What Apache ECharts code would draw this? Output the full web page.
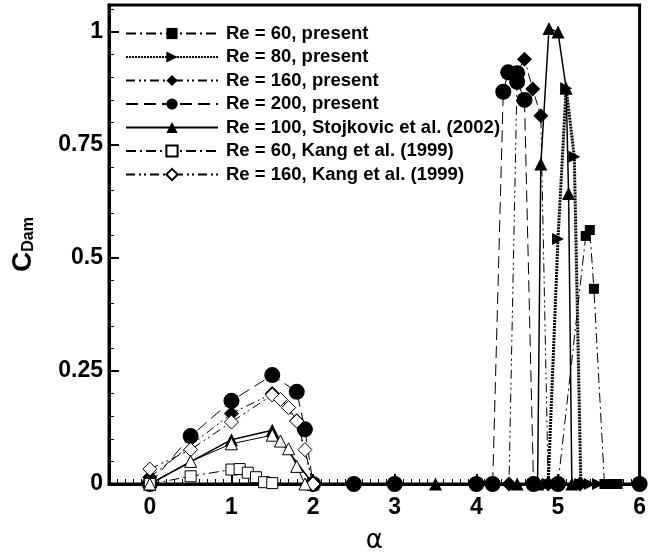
<!DOCTYPE html>
<html>
<head>
<meta charset="utf-8">
<script src="https://cdn.jsdelivr.net/npm/echarts@6.0.0/dist/echarts.min.js"></script>
<style>
  html, body { margin: 0; padding: 0; background: #fff; }
  #chart { width: 649px; height: 559px; }
</style>
</head>
<body>
<div id="chart"></div>
<script>
  // tick labels
  var xTicks = [0, 1, 2, 3, 4, 5, 6]
  var yTicks = [0, 0.25, 0.5, 0.75, 1]

  // [alpha, C_Dam]
  var re60Present = [[5.0, 0], [5.34, 0.549], [5.39, 0.562], [5.44, 0.432], [5.57, 0], [5.65, 0], [5.73, 0]]
  var re80Present = [[4.88, 0], [5.0, 0.542], [5.1, 0.876], [5.2, 0.724], [5.28, 0], [5.39, 0], [5.49, 0]]
  var re160Present = [[0, 0.015], [1, 0.156], [1.5, 0.2], [1.8, 0.14], [2, 0], [2.5, 0], [3, 0], [4.4, 0],
    [4.5, 0.91], [4.59, 0.94], [4.69, 0.874], [4.79, 0.815], [4.88, 0], [5.27, 0]]
  var re200Present = [[0, 0], [0.5, 0.106], [1, 0.184], [1.5, 0.241], [1.8, 0.204], [1.9, 0.121], [2, 0],
    [2.5, 0], [3, 0], [4, 0], [4.2, 0], [4.33, 0.868], [4.39, 0.911], [4.5, 0.909], [4.5, 0.89],
    [4.59, 0.85], [4.7, 0], [5, 0], [6, 0]]
  var re100Stojkovic = [[0, 0], [1, 0.098], [1.5, 0.119], [2, 0], [3.5, 0], [4.5, 0], [4.75, 0],
    [4.79, 0.708], [4.89, 1.008], [5.0, 1.0], [5.1, 0.876], [5.13, 0.643], [5.17, 0]]
  var re60Kang = [[0, 0], [0.5, 0.017], [1, 0.032], [1.1, 0.033], [1.2, 0.025], [1.3, 0.015], [1.4, 0.004], [1.5, 0.002]]
  var re160Kang = [[0, 0.033], [0.5, 0.076], [1, 0.137], [1.5, 0.197], [1.6, 0.187], [1.7, 0.169],
    [1.8, 0.139], [1.9, 0.076], [2, 0]]
  var openTriangles = [[0, 0], [0.5, 0.05], [1, 0.089], [1.5, 0.108], [1.6, 0.095], [1.7, 0.078], [1.8, 0.039], [1.9, 0]]

  var names = ['Re = 60, present', 'Re = 80, present', 'Re = 160, present', 'Re = 200, present',
    'Re = 100, Stojkovic et al. (2002)', 'Re = 60, Kang et al. (1999)', 'Re = 160, Kang et al. (1999)']

  var dashDot = [10, 4, 2, 4]
  var dashDotDot = [9, 4, 2, 3, 2, 4]
  var longDash = [12, 6]
  var FONT = 'Liberation Sans'

  function mk(name, data, symbol, size, filled, lineType, lineWidth, rotate) {
    return {
      name: name,
      type: 'line',
      data: data,
      symbol: symbol,
      symbolSize: size,
      symbolRotate: rotate || 0,
      showAllSymbol: true,
      clip: false,
      itemStyle: {
        color: filled ? '#000' : '#fff',
        borderColor: '#000',
        borderWidth: filled ? 0 : 1
      },
      lineStyle: { color: '#000', width: lineWidth, type: lineType },
      emphasis: { disabled: true }
    }
  }

  var chart = echarts.init(document.getElementById('chart'))
  var option = {
    animation: false,
    backgroundColor: '#fff',
    grid: {
      left: 109, right: 4, top: 5, bottom: 66,
      show: true, borderColor: '#000', borderWidth: 3
    },
    legend: {
      data: names,
      orient: 'vertical',
      left: 120,
      top: 19,
      itemWidth: 92,
      itemHeight: 14,
      itemGap: 4.5,
      selectedMode: false,
      textStyle: {
        fontFamily: FONT, fontWeight: 'bold', fontSize: 18.5, lineHeight: 18,
        color: '#000', padding: [0, 0, 0, 3]
      }
    },
    xAxis: {
      type: 'value',
      min: -0.5,
      max: 6,
      interval: 0.5,
      name: 'α',
      nameLocation: 'middle',
      nameGap: 44,
      nameTextStyle: { fontFamily: 'DejaVu Sans', fontSize: 26, color: '#000' },
      axisLine: { show: true, onZero: false, lineStyle: { color: '#000', width: 3 } },
      axisTick: { inside: true, length: 10, lineStyle: { color: '#000', width: 2 }, customValues: xTicks },
      minorTick: { show: true, splitNumber: 5, length: 5, lineStyle: { color: '#000', width: 1 } },
      axisLabel: {
        customValues: xTicks, margin: 12, color: '#000',
        fontFamily: FONT, fontWeight: 'bold', fontSize: 23
      },
      splitLine: { show: false },
      minorSplitLine: { show: false }
    },
    yAxis: {
      type: 'value',
      min: 0,
      max: 1.06,
      interval: 0.25,
      name: '{c|C}{s|Dam}',
      nameLocation: 'middle',
      nameRotate: 90,
      nameGap: 72,
      nameTextStyle: {
        rich: {
          c: { fontFamily: FONT, fontWeight: 'bold', fontSize: 28, color: '#000', lineHeight: 34, verticalAlign: 'bottom' },
          s: { fontFamily: FONT, fontWeight: 'bold', fontSize: 16, color: '#000', lineHeight: 34, verticalAlign: 'bottom' }
        }
      },
      axisLine: { show: true, onZero: false, lineStyle: { color: '#000', width: 3 } },
      axisTick: { inside: true, length: 10, lineStyle: { color: '#000', width: 2 }, customValues: yTicks },
      minorTick: { show: true, splitNumber: 5, length: 5, lineStyle: { color: '#000', width: 1 } },
      axisLabel: {
        customValues: yTicks, margin: 6, color: '#000',
        fontFamily: FONT, fontWeight: 'bold', fontSize: 23,
        formatter: function (v) { return String(+v.toFixed(2)) }
      },
      splitLine: { show: false },
      minorSplitLine: { show: false }
    },
    series: [
      mk(names[0], re60Present, 'rect', 10, true, dashDot, 1),
      mk(names[1], re80Present, 'triangle', 12, true, [2, 1], 3, -90),
      mk(names[2], re160Present, 'diamond', 15, true, dashDotDot, 1),
      mk(names[3], re200Present, 'circle', 16, true, longDash, 1),
      mk(names[4], re100Stojkovic, 'triangle', 13, true, 'solid', 1.5),
      mk(names[5], re60Kang, 'rect', 11, false, dashDot, 1),
      mk(names[6], re160Kang, 'diamond', 14, false, dashDotDot, 1),
      mk('', openTriangles, 'triangle', 12, false, 'solid', 1)
    ]
  }
  chart.setOption(option)
</script>
</body>
</html>
